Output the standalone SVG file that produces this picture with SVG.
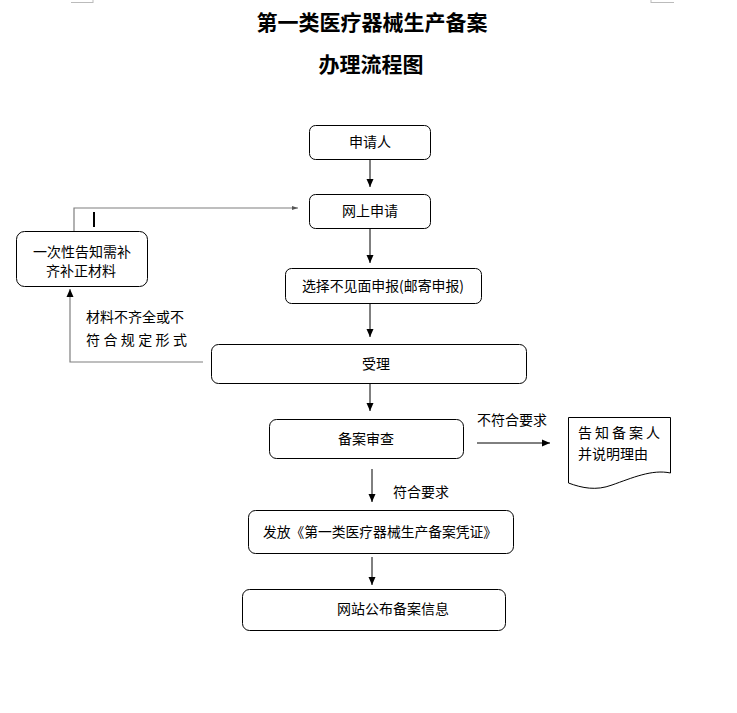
<svg xmlns="http://www.w3.org/2000/svg" width="737" height="713" viewBox="0 0 737 713">
<style>
text{font-family:"Noto Sans CJK SC","Noto Sans",sans-serif;fill:#000}
.t{font-size:21px;font-weight:bold;text-anchor:middle}
.n{font-size:14px;text-anchor:middle}
.l{font-size:14px}
.box{fill:#fff;stroke:#000;stroke-width:1}
.c{fill:none;stroke:#000;stroke-width:1}
.g{fill:none;stroke:#7f7f7f;stroke-width:1.2}
</style>
<defs>
<marker id="a" markerUnits="userSpaceOnUse" markerWidth="8" markerHeight="8" refX="8" refY="4" orient="auto"><path d="M0,0.5 L8,4 L0,7.5 Z" fill="#000"/></marker>
<marker id="s" markerUnits="userSpaceOnUse" markerWidth="6" markerHeight="6" refX="6" refY="3" orient="auto"><path d="M0,1 L6,3 L0,5 Z" fill="#555"/></marker>
</defs>
<rect width="737" height="713" fill="#fff"/>
<g id="cropmarks" stroke="#bbb" stroke-width="1">
<path d="M71,2.5 H93 M93,0 V3 M651,2.5 H674 M651,0 V3"/>
</g>
<g id="title">
<text class="t" x="372" y="30">第一类医疗器械生产备案</text>
<text class="t" x="371" y="72">办理流程图</text>
</g>
<g id="connectors">
<path class="c" d="M370,160 V187" marker-end="url(#a)"/>
<path class="c" d="M370,228 V263" marker-end="url(#a)"/>
<path class="c" d="M370,303 V337" marker-end="url(#a)"/>
<path class="c" d="M370,384 V411" marker-end="url(#a)"/>
<path class="c" d="M372,469 V502" marker-end="url(#a)"/>
<path class="c" d="M372,557 V585" marker-end="url(#a)"/>
<path class="c" d="M477,443 H550" marker-end="url(#a)"/>
<path class="g" d="M203,362 H70 V289" marker-end="url(#a)"/>
<path class="g" d="M74,231 V208 H298" marker-end="url(#s)"/>
<path d="M94,212 V227" stroke="#000" stroke-width="2"/>
</g>
<g id="n1"><rect class="box" x="309.5" y="125.5" width="121" height="34" rx="6"/><text class="n" x="370" y="147">申请人</text></g>
<g id="n2"><rect class="box" x="309.5" y="194.5" width="121" height="34" rx="6"/><text class="n" x="370" y="216">网上申请</text></g>
<g id="n3"><rect class="box" x="285.5" y="268.5" width="196" height="35" rx="6"/><text class="n" x="383" y="291" textLength="162" lengthAdjust="spacingAndGlyphs">选择不见面申报(邮寄申报)</text></g>
<g id="n4"><rect class="box" x="211.5" y="344.5" width="315" height="39" rx="7"/><text class="n" x="376" y="369">受理</text></g>
<g id="n5"><rect class="box" x="269.5" y="419.5" width="194" height="39" rx="7"/><text class="n" x="366" y="444">备案审查</text></g>
<g id="n6"><rect class="box" x="248.5" y="510.5" width="265" height="43" rx="7"/><text class="n" x="380" y="537" textLength="234" lengthAdjust="spacingAndGlyphs">发放《第一类医疗器械生产备案凭证》</text></g>
<g id="n7"><rect class="box" x="242.5" y="589.5" width="263" height="41" rx="7"/><text class="n" x="393" y="614">网站公布备案信息</text></g>
<g id="n8"><rect class="box" x="16.5" y="231.5" width="131" height="55" rx="8"/>
<text class="n" x="82" y="257">一次性告知需补</text><text class="n" x="81" y="276">齐补正材料</text></g>
<g id="n9"><path class="box" d="M568.5,417.5 H670.5 V473 C652,469 632,478 612,485 C596,491 582,488 568.5,483 Z"/>
<text class="l" x="578" y="438" textLength="82" lengthAdjust="spacing">告 知 备 案 人</text>
<text class="l" x="578" y="459">并说明理由</text></g>
<g id="labels">
<text class="l" x="86" y="322">材料不齐全或不</text>
<text class="l" x="86" y="345" textLength="101" lengthAdjust="spacing">符 合 规 定 形 式</text>
<text class="l" x="477" y="425">不符合要求</text>
<text class="l" x="393" y="497">符合要求</text>
</g>
</svg>
